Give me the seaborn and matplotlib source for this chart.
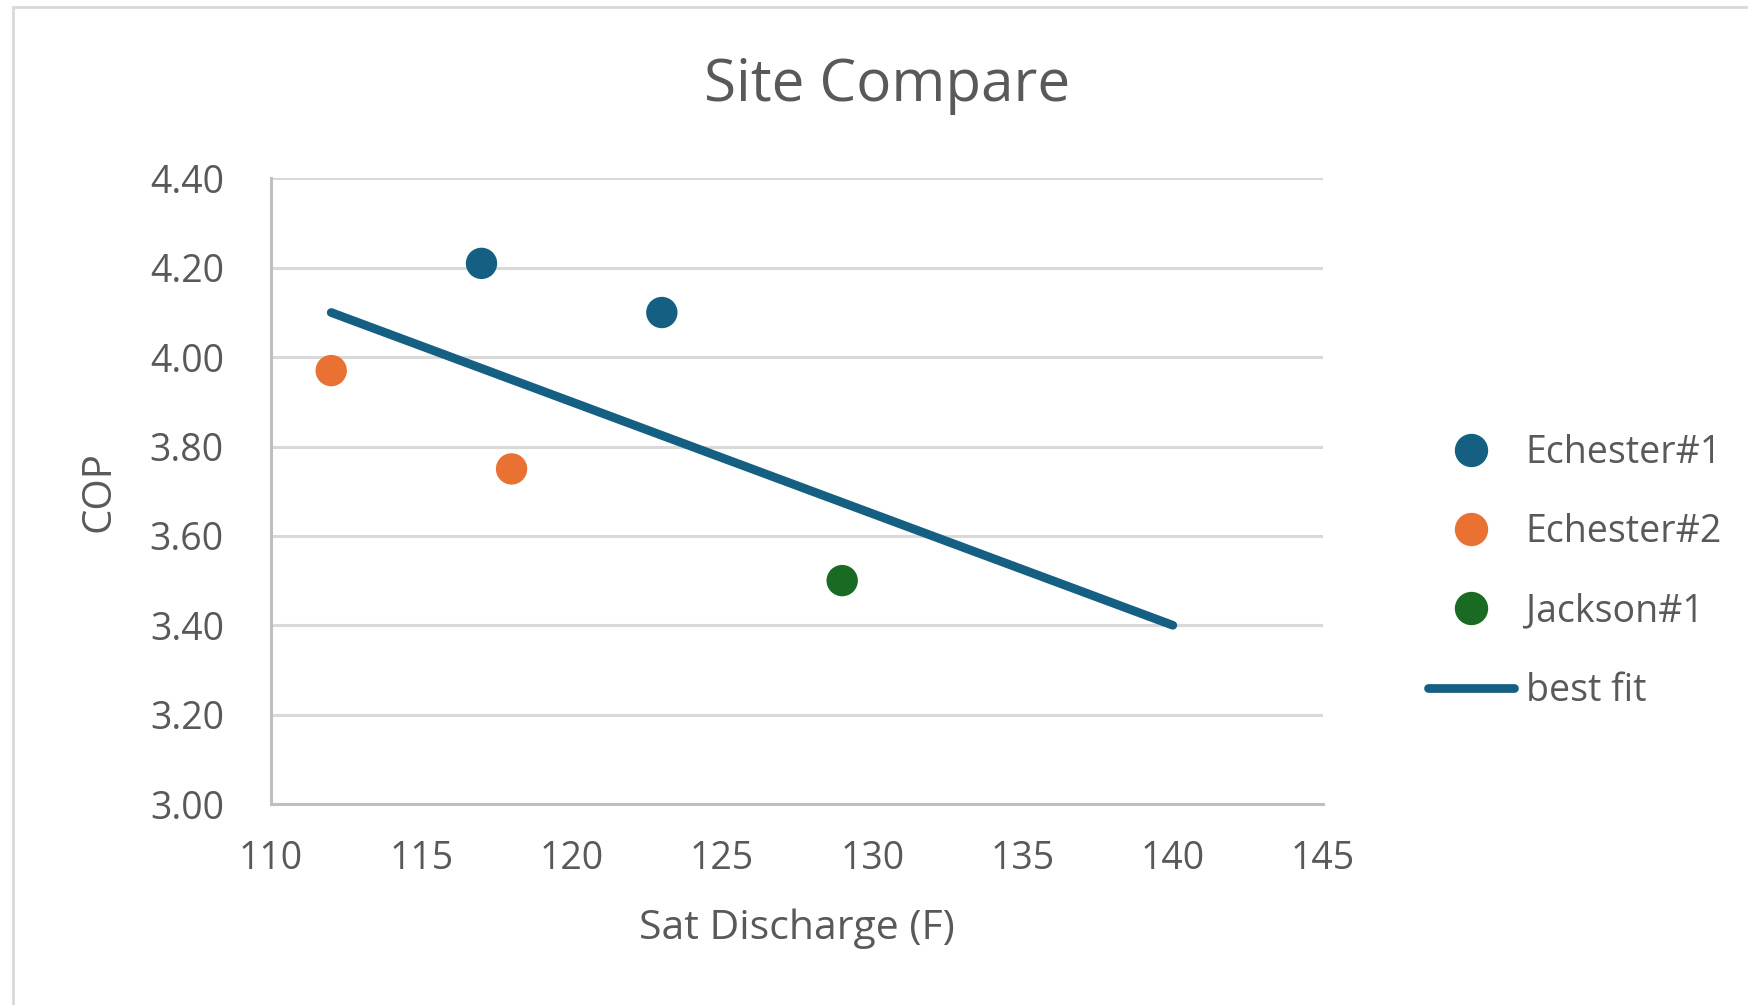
import pandas as pd
import matplotlib
matplotlib.use('Agg')
import matplotlib.pyplot as plt
import seaborn as sns
from matplotlib.lines import Line2D
from matplotlib.patches import Rectangle

# data
sites = ['Echester#1', 'Echester#1', 'Echester#2', 'Echester#2', 'Jackson#1']
sat_discharge = [117, 123, 112, 118, 129]
cop = [4.21, 4.10, 3.97, 3.75, 3.50]
fit_x = [112, 140]
fit_y = [4.10, 3.40]
x_ticks = [110, 115, 120, 125, 130, 135, 140, 145]
y_ticks = [3.00, 3.20, 3.40, 3.60, 3.80, 4.00, 4.20, 4.40]

colors = {'Echester#1': '#156082', 'Echester#2': '#E97132', 'Jackson#1': '#196B24'}
txt = '#595959'

df = pd.DataFrame({'site': sites, 'x': sat_discharge, 'y': cop})
fit = pd.DataFrame({'x': fit_x, 'y': fit_y})

sns.set_style('white')
plt.rcParams['font.family'] = ['Open Sans', 'DejaVu Sans']

fig = plt.figure(figsize=(17.49, 10.05), dpi=100)
ax = fig.add_axes([0.155, 0.2, 0.6015, 0.6224])

# light frame around the chart area
fig.patches.append(Rectangle((13 / 1749, -0.1), 1.2, 1.1 - 7 / 1005, transform=fig.transFigure,
                             fill=False, edgecolor='#D9D9D9', lw=2))

sns.lineplot(data=fit, x='x', y='y', ax=ax, color='#156082', lw=6.3,
             solid_capstyle='round', zorder=2, legend=False)
sns.scatterplot(data=df, x='x', y='y', hue='site', palette=colors, s=510,
                edgecolor='none', ax=ax, zorder=3, legend=False)

ax.set_xlim(110, 145)
ax.set_ylim(3.0, 4.4)
ax.set_xticks(x_ticks)
ax.set_yticks(y_ticks)
ax.set_yticklabels([f'{v:.2f}' for v in y_ticks])
ax.grid(axis='y', color='#D9D9D9', lw=2.2)
ax.set_axisbelow(True)
for s in ['top', 'right']:
    ax.spines[s].set_visible(False)
for s in ['left', 'bottom']:
    ax.spines[s].set_color('#BFBFBF')
    ax.spines[s].set_linewidth(2.2)
ax.tick_params(axis='y', length=0, pad=34, labelsize=27, labelcolor=txt)
ax.tick_params(axis='x', length=0, pad=26, labelsize=27, labelcolor=txt)

ax.set_xlabel('Sat Discharge (F)', fontsize=29.5, color=txt, labelpad=22)
ax.set_ylabel('COP', fontsize=29, color=txt, labelpad=22)
fig.suptitle('Site Compare', fontsize=42, color=txt, y=0.944, x=0.507)

handles = [Line2D([], [], ls='none', marker='o', ms=23, color=colors[k]) for k in colors]
handles.append(Line2D([], [], color='#156082', lw=6.3, solid_capstyle='round'))
labels = list(colors) + ['best fit']
fig.legend(handles, labels, loc='center left', bbox_to_anchor=(0.808, 0.431),
           frameon=False, fontsize=27, labelcolor=txt, labelspacing=1.1,
           handlelength=2.3, handletextpad=0.3, borderaxespad=0)

fig.savefig('out.png', dpi=100)
